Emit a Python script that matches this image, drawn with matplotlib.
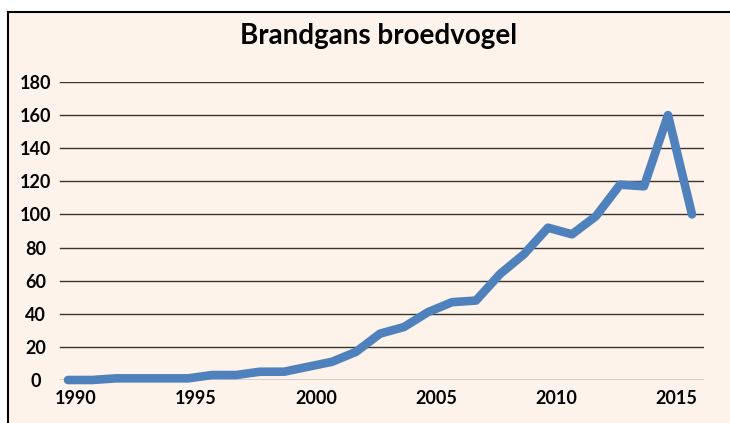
import matplotlib
matplotlib.use("Agg")
import matplotlib.pyplot as plt
import matplotlib.transforms as mtransforms
from matplotlib.patches import Rectangle

# Brandgans (shelduck) breeding pairs per year
years = list(range(1990, 2017))
pairs = [0, 0, 1, 1, 1, 1, 3, 3, 5, 5, 8, 11, 17, 28, 32, 41, 47, 48,
         64, 76, 92, 88, 99, 118, 117, 160, 100]
yticks = [0, 20, 40, 60, 80, 100, 120, 140, 160, 180]
xticks = [1990, 1995, 2000, 2005, 2010, 2015]

bg = "#fdf3ea"
blue = "#4f81bd"

plt.rcParams["font.family"] = ["Lato", "DejaVu Sans"]

fig = plt.figure(figsize=(7.3, 4.23), dpi=100)
fig.patch.set_facecolor("white")

# panel background with black frame on left and top
fx, fy = 8 / 730, 1 - 12 / 423
fig.add_artist(Rectangle((fx, -0.01), 1.0, fy + 0.01, transform=fig.transFigure,
                         facecolor=bg, edgecolor="none", zorder=0))
fig.add_artist(plt.Line2D([fx, fx], [0, fy], transform=fig.transFigure,
                          color="black", lw=1.5, zorder=1))
fig.add_artist(plt.Line2D([fx, 1], [fy, fy], transform=fig.transFigure,
                          color="black", lw=1.5, zorder=1))

ax = fig.add_axes([56 / 730, 1 - 380 / 423, 648 / 730, 298 / 423])
ax.set_facecolor("none")

for y in yticks:
    ax.axhline(y, xmin=4 / 648, color="#3a3530", lw=1.0, zorder=1)

ax.plot(years, pairs, color=blue, lw=6.2, solid_capstyle="round",
        solid_joinstyle="round", clip_on=False, zorder=3)

ax.set_xlim(1989.5, 2016.5)
ax.set_ylim(0, 180)
ax.set_yticks(yticks)
ax.set_xticks(xticks)
for s in ax.spines.values():
    s.set_visible(False)
ax.tick_params(axis="y", length=0, pad=14.8)
ax.tick_params(axis="x", length=0, pad=7)
for lab in ax.get_yticklabels():
    lab.set_fontweight("bold")
    lab.set_fontsize(13)
    lab.set_horizontalalignment("center")
shift = mtransforms.ScaledTranslation(8 / 100, 0, fig.dpi_scale_trans)
for lab in ax.get_xticklabels():
    lab.set_fontweight("bold")
    lab.set_fontsize(13)
    lab.set_transform(lab.get_transform() + shift)

fig.text(378.5 / 730, 1 - 36 / 423, "Brandgans broedvogel", ha="center", va="center",
         fontsize=20, fontweight="bold")

fig.savefig("out.png", dpi=100)
